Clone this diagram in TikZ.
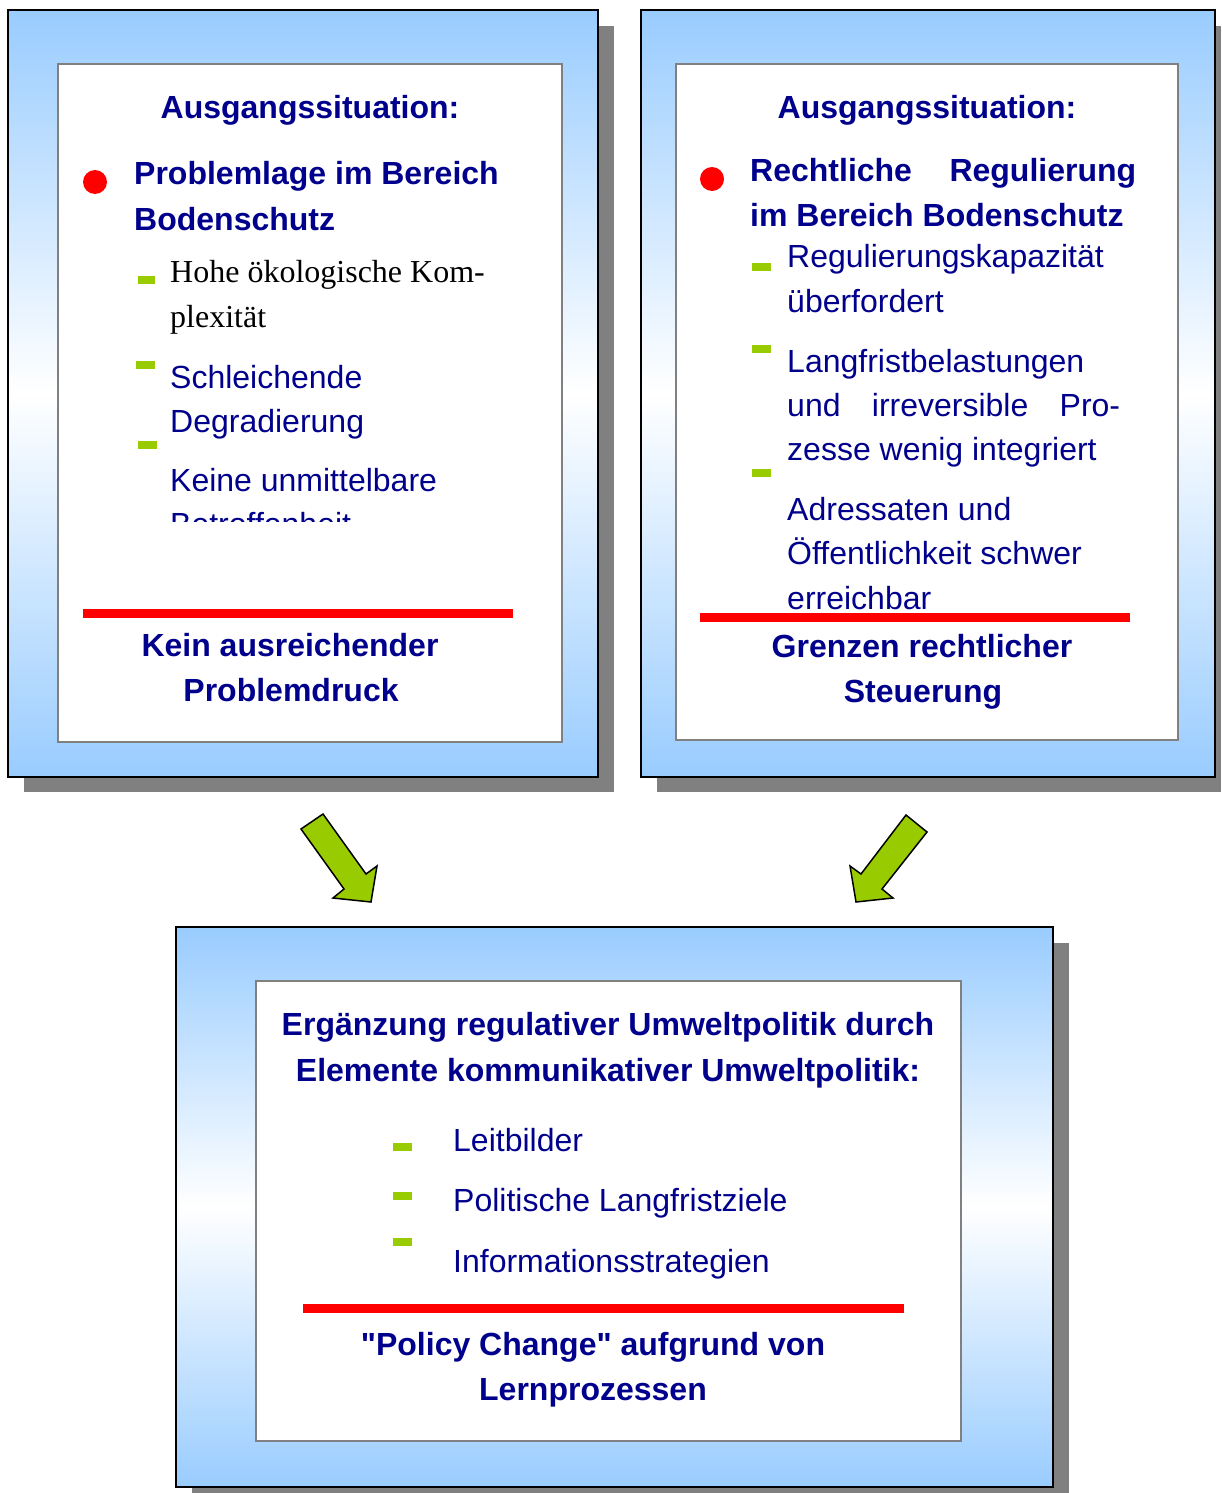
\documentclass[tikz,border=0pt]{standalone}
\usepackage{fontspec}
\setmainfont{Liberation Sans}[Ligatures=TeXOff]
\newfontfamily\timesfont{Liberation Serif}
\usetikzlibrary{positioning}
\definecolor{navytext}{RGB}{0,0,140}
\definecolor{framecol}{RGB}{153,204,255}
\definecolor{limegreen}{RGB}{153,204,0}
\definecolor{shadowgray}{RGB}{128,128,128}
\begin{document}
\begin{tikzpicture}[x=1pt, y=-1pt,
        every node/.style={inner sep=0pt, text=navytext, font=\fontsize{32}{44}\selectfont},
        item/.style={anchor=base west},
        head/.style={anchor=base, font=\fontsize{32}{44}\selectfont\bfseries},
        bhead/.style={anchor=base west, font=\fontsize{32}{44}\selectfont\bfseries},
        frame/.style={draw=black, line width=2pt, top color=framecol, bottom color=framecol, middle color=white},
        panel/.style={draw=gray, line width=1.5pt, fill=white},
        redline/.style={draw=red, line width=9pt},
        bigarrow/.style={fill=limegreen, draw=black, line width=1.5pt, line join=miter}]
        \useasboundingbox (0,0) rectangle (1221,1493);
        % left box
        \fill[shadowgray] (24,26) rectangle (614,792);
        \shade[frame] (8,10) rectangle (598,777);
        \draw[panel] (58,64) rectangle (562,742);
        \node[head] (lhead) at (310,119) {Ausgangssituation:};
        \fill[red] (95,182) circle (12);
        \node[bhead] (lprob) at (134,184) {Problemlage im Bereich};
        \node[bhead] (lboden) at (134,230) {Bodenschutz};
        \fill[limegreen] (138,276) rectangle (155,284);
        \node[item, text=black, font=\fontsize{32}{47}\timesfont] (lhohe) at (170,282) {Hohe ökologische Kom-};
        \node[item, text=black, font=\fontsize{32}{47}\timesfont] (lplex) at (170,327) {plexität};
        \fill[limegreen] (136,361) rectangle (155,369);
        \node[item] (lschl) at (170,388) {Schleichende};
        \node[item] (ldegr) at (170,432) {Degradierung};
        \fill[limegreen] (138,441) rectangle (157,449);
        \node[item] (lkeine) at (170,491) {Keine unmittelbare};
        \begin{scope}
            \clip (150,500) rectangle (560,521);
            \node[item] (lbetr) at (170,535) {Betroffenheit};
        \end{scope}
        \draw[redline] (83,613) -- (513,613);
        \node[head] (lkein) at (290,656) {Kein ausreichender};
        \node[head] (ldruck) at (291,701) {Problemdruck};
        % right box
        \fill[shadowgray] (657,26) rectangle (1221,792);
        \shade[frame] (641,10) rectangle (1215,777);
        \draw[panel] (676,64) rectangle (1178,740);
        \node[head] (rhead) at (927,119) {Ausgangssituation:};
        \fill[red] (712,179) circle (12);
        \node[bhead] (rrecht) at (750,181) {\makebox[386pt][s]{Rechtliche Regulierung}};
        \node[bhead] (rboden) at (750,226) {im Bereich Bodenschutz};
        \fill[limegreen] (752,263) rectangle (771,271);
        \node[item] (rkap) at (787,267) {Regulierungskapazität};
        \node[item] (rueber) at (787,312) {überfordert};
        \fill[limegreen] (752,345) rectangle (771,353);
        \node[item] (rlang) at (787,372) {Langfristbelastungen};
        \node[item] (rirr) at (787,416) {\makebox[333pt][s]{und irreversible Pro-}};
        \node[item] (rzesse) at (787,460) {zesse wenig integriert};
        \fill[limegreen] (752,469) rectangle (771,477);
        \node[item] (radr) at (787,520) {Adressaten und};
        \node[item] (roeff) at (787,564) {Öffentlichkeit schwer};
        \node[item] (rerr) at (787,609) {erreichbar};
        \draw[redline] (700,617) -- (1130,617);
        \node[head] (rgrenz) at (922,657) {Grenzen rechtlicher};
        \node[head] (rsteu) at (923,702) {Steuerung};
        % arrows
        \filldraw[bigarrow] (301,829) -- (323,814) -- (366,874) -- (377,866) -- (371,902) -- (333,898) -- (344,889) -- cycle;
        \filldraw[bigarrow] (927,832) -- (906,815) -- (861,874) -- (850,866) -- (856,902) -- (893,898) -- (882,889) -- cycle;
        % bottom box
        \fill[shadowgray] (192,943) rectangle (1069,1493);
        \shade[frame] (176,927) rectangle (1053,1487);
        \draw[panel] (256,981) rectangle (961,1441);
        \node[head] (berg) at (608,1035) {Ergänzung regulativer Umweltpolitik durch};
        \node[head] (belem) at (608,1081) {Elemente kommunikativer Umweltpolitik:};
        \fill[limegreen] (393,1143) rectangle (412,1151);
        \node[item] (bleit) at (453,1151) {Leitbilder};
        \fill[limegreen] (393,1192) rectangle (412,1200);
        \node[item] (bpol) at (453,1211) {Politische Langfristziele};
        \fill[limegreen] (393,1238) rectangle (412,1246);
        \node[item] (binfo) at (453,1272) {Informationsstrategien};
        \draw[redline] (303,1308) -- (904,1308);
        \node[head] (bpolicy) at (593,1355) {"Policy Change" aufgrund von};
        \node[head] (blern) at (593,1400) {Lernprozessen};
\end{tikzpicture}
\end{document}
